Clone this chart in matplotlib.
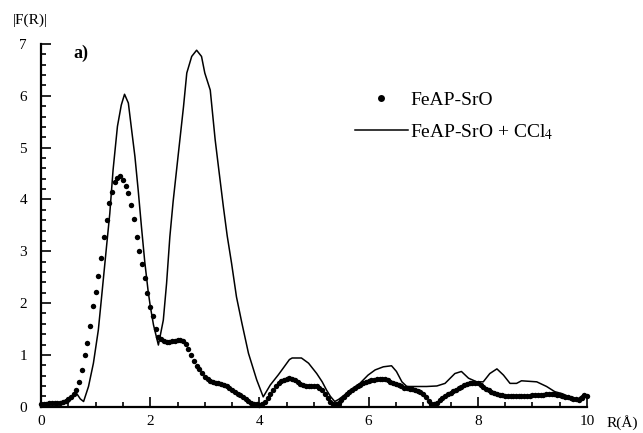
import numpy as np
import matplotlib
matplotlib.use("Agg")
import matplotlib.pyplot as plt
from matplotlib.lines import Line2D
from matplotlib.ticker import MultipleLocator

plt.rcParams['font.family'] = ['Liberation Serif', 'DejaVu Serif']
plt.rcParams['mathtext.fontset'] = 'stix'

# FeAP-SrO (dots), sampled every 0.05 A from 0 to 10
r_dots = np.round(np.arange(0, 10.001, 0.05), 2)
f_dots = [
    0.05, 0.06, 0.06, 0.07, 0.07, 0.07, 0.07, 0.08, 0.09, 0.11,
    0.14, 0.18, 0.25, 0.33, 0.48, 0.70, 1.00, 1.22, 1.55, 1.95,
    2.22, 2.52, 2.87, 3.28, 3.60, 3.93, 4.15, 4.33, 4.42, 4.45,
    4.38, 4.26, 4.12, 3.90, 3.62, 3.28, 3.00, 2.75, 2.48, 2.20,
    1.93, 1.75, 1.50, 1.35, 1.30, 1.27, 1.25, 1.25, 1.26, 1.27,
    1.29, 1.28, 1.26, 1.21, 1.12, 1.00, 0.88, 0.78, 0.72, 0.65,
    0.58, 0.53, 0.49, 0.47, 0.46, 0.45, 0.44, 0.42, 0.39, 0.36,
    0.33, 0.29, 0.25, 0.22, 0.18, 0.14, 0.11, 0.08, 0.06, 0.05,
    0.04, 0.05, 0.10, 0.17, 0.25, 0.33, 0.40, 0.45, 0.49, 0.52,
    0.54, 0.55, 0.54, 0.52, 0.48, 0.44, 0.41, 0.39, 0.39, 0.39,
    0.39, 0.39, 0.37, 0.32, 0.25, 0.17, 0.10, 0.06, 0.05, 0.08,
    0.13, 0.18, 0.24, 0.29, 0.33, 0.36, 0.39, 0.42, 0.45, 0.47,
    0.49, 0.51, 0.52, 0.53, 0.54, 0.54, 0.53, 0.51, 0.48, 0.45,
    0.43, 0.41, 0.39, 0.37, 0.36, 0.35, 0.34, 0.33, 0.31, 0.29,
    0.25, 0.18, 0.11, 0.06, 0.05, 0.08, 0.12, 0.17, 0.21, 0.24,
    0.27, 0.30, 0.33, 0.36, 0.38, 0.41, 0.43, 0.45, 0.46, 0.46,
    0.45, 0.42, 0.38, 0.35, 0.32, 0.29, 0.27, 0.25, 0.23, 0.22,
    0.21, 0.20, 0.20, 0.20, 0.21, 0.21, 0.21, 0.21, 0.21, 0.21,
    0.22, 0.22, 0.22, 0.23, 0.23, 0.24, 0.24, 0.25, 0.24, 0.23,
    0.22, 0.21, 0.19, 0.18, 0.16, 0.15, 0.14, 0.13, 0.16, 0.22,
    0.20,
]

# FeAP-SrO + CCl4 (solid line)
r_line = [0.00, 0.30, 0.50, 0.58, 0.65, 0.72, 0.78, 0.87, 0.96, 1.05,
          1.11, 1.20, 1.26, 1.32, 1.40, 1.47, 1.53, 1.60, 1.66, 1.72,
          1.78, 1.84, 1.90, 1.96, 2.00, 2.06, 2.15, 2.24, 2.30, 2.36,
          2.42, 2.51, 2.61, 2.67, 2.76, 2.85, 2.94, 3.00, 3.10, 3.13,
          3.19, 3.25, 3.34, 3.41, 3.49, 3.58, 3.68, 3.80, 3.95, 4.07,
          4.20, 4.35, 4.44, 4.55, 4.60, 4.77, 4.90, 5.05, 5.15, 5.23,
          5.30, 5.38, 5.45, 5.55, 5.66, 5.84, 5.99, 6.12, 6.27, 6.42,
          6.51, 6.61, 6.70, 7.06, 7.25, 7.40, 7.58, 7.70, 7.83, 7.98,
          8.10, 8.22, 8.35, 8.47, 8.59, 8.71, 8.80, 9.08, 9.26, 9.41,
          9.55, 9.70, 9.82, 9.92, 10.00]
f_line = [0.05, 0.05, 0.08, 0.18, 0.26, 0.15, 0.10, 0.39, 0.84, 1.48,
          2.12, 3.09, 3.73, 4.57, 5.41, 5.82, 6.03, 5.86, 5.34, 4.83,
          4.18, 3.47, 2.80, 2.25, 1.95, 1.58, 1.19, 1.67, 2.38, 3.28,
          3.96, 4.83, 5.79, 6.44, 6.76, 6.88, 6.76, 6.44, 6.11, 5.79,
          5.15, 4.63, 3.86, 3.30, 2.77, 2.12, 1.61, 1.03, 0.52, 0.19,
          0.42, 0.62, 0.75, 0.91, 0.94, 0.94, 0.84, 0.64, 0.48, 0.32,
          0.20, 0.10, 0.14, 0.22, 0.32, 0.45, 0.61, 0.71, 0.77, 0.79,
          0.68, 0.48, 0.39, 0.39, 0.40, 0.45, 0.64, 0.68, 0.55, 0.48,
          0.48, 0.64, 0.73, 0.61, 0.45, 0.45, 0.50, 0.48, 0.39, 0.29,
          0.25, 0.18, 0.14, 0.22, 0.18]

fig = plt.figure(figsize=(6.43, 4.33), dpi=100)
ax = fig.add_axes([41/643, 1-406.7/433, (587-41)/643, (406.7-44)/433])

ax.plot(r_line, f_line, color='black', lw=1.1, clip_on=False)
ax.plot(r_dots, f_dots, 'o', color='black', ms=3.9, mew=0, clip_on=False)

ax.set_xlim(0, 10)
ax.set_ylim(0, 7)
for s in ['top', 'right']:
    ax.spines[s].set_visible(False)
for s in ['left', 'bottom']:
    ax.spines[s].set_linewidth(1.6)

ax.xaxis.set_major_locator(MultipleLocator(2))
ax.xaxis.set_minor_locator(MultipleLocator(0.5))
ax.yaxis.set_major_locator(MultipleLocator(1))
ax.yaxis.set_minor_locator(MultipleLocator(0.2))
ax.tick_params(which='both', direction='in', width=1.2, labelsize=11)
ax.tick_params(which='major', length=7)
ax.tick_params(which='minor', length=3.5)
ax.tick_params(axis='y', which='both', pad=10)
ax.tick_params(axis='x', which='both', pad=6)

fig.text(30/643, 1-20/433, '|F(R)|', fontsize=11, ha='center', va='center')
fig.text(622/643, 1-423/433, 'R(Å)', fontsize=11, ha='center', va='center')
ax.text(73/643, 1-53/433, 'a)', fontsize=13, fontweight='bold',
        transform=fig.transFigure, ha='left', va='center')

handles = [Line2D([], [], ls='none', marker='o', color='black', ms=5, mew=0),
           Line2D([], [], color='black', lw=1.1)]
labels = ['FeAP-SrO', 'FeAP-SrO + CCl$_4$']
fig.legend(handles, labels, loc='upper left', bbox_to_anchor=(355/643, 1-91/433),
           frameon=False, fontsize=14, handlelength=2.7, handletextpad=0.15,
           borderpad=0, borderaxespad=0, labelspacing=0.7)

fig.savefig('out.png', dpi=100)
